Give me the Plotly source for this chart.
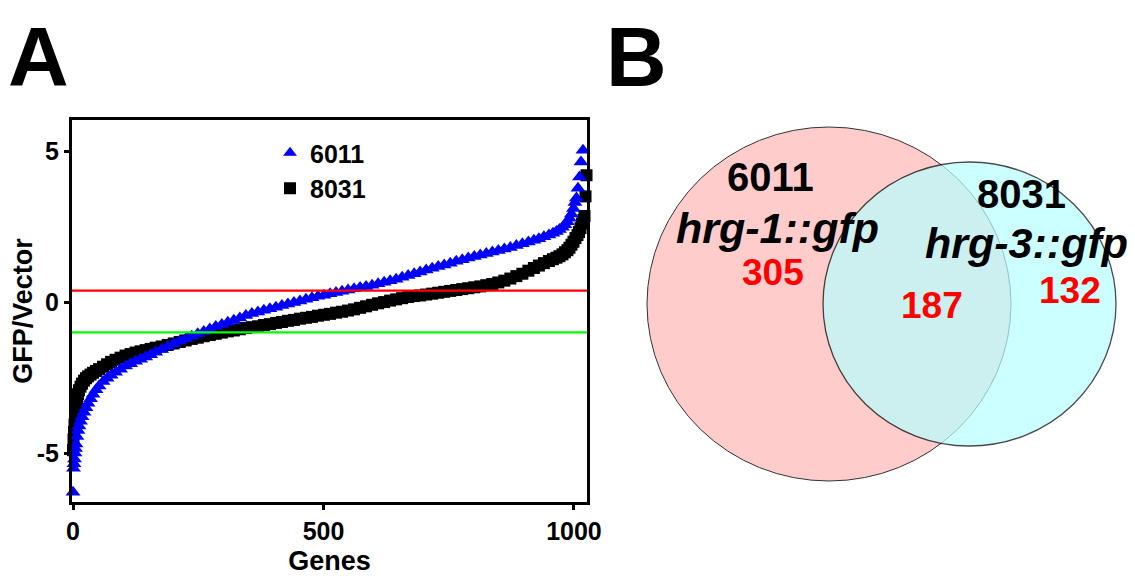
import plotly.graph_objects as go

W, H = 1135, 580          # browser window
OX, OY = 8, 8             # page body margin offset of the figure
FW, FH = W - OX, H - OY   # figure size so it fits in the window

# ---------------- Panel A data ----------------
genes_6011 = [0, 1, 2, 3, 4, 5, 6, 8, 10, 12, 15, 18, 22, 26, 30, 35, 40, 46, 52, 60,
              68, 76, 85, 95, 105, 115, 125, 135, 145, 155, 165, 177, 189, 201, 213,
              225, 237, 249, 261, 273, 285, 297, 309, 321, 333, 345, 357, 369, 381, 393,
              405, 417, 429, 441, 453, 465, 477, 489, 501, 513, 525, 537, 549, 561, 573,
              585, 597, 609, 621, 633, 645, 657, 669, 681, 693, 705, 717, 729, 741, 753,
              765, 777, 789, 801, 813, 825, 837, 849, 861, 873, 885, 897, 909, 920, 930,
              940, 950, 958, 965, 971, 977, 982, 987, 991, 995, 999, 1002, 1005, 1008,
              1011, 1014, 1018]
gfp_6011 = [-6.3, -5.5, -5.35, -5.2, -5.0, -4.85, -4.7, -4.45, -4.25, -4.1, -3.95, -3.8,
            -3.65, -3.5, -3.35, -3.2, -3.05, -2.9, -2.78, -2.63, -2.52, -2.42, -2.32,
            -2.22, -2.12, -2.04, -1.96, -1.89, -1.82, -1.74, -1.66, -1.57, -1.47, -1.38,
            -1.29, -1.21, -1.13, -1.05, -0.97, -0.89, -0.81, -0.74, -0.67, -0.6, -0.53,
            -0.44, -0.38, -0.33, -0.27, -0.22, -0.17, -0.11, -0.06, -0.01, 0.04, 0.09,
            0.14, 0.19, 0.23, 0.28, 0.32, 0.36, 0.40, 0.44, 0.48, 0.52, 0.56, 0.61, 0.66,
            0.71, 0.76, 0.82, 0.88, 0.94, 1.0, 1.06, 1.12, 1.18, 1.23, 1.29, 1.35, 1.40,
            1.46, 1.51, 1.56, 1.61, 1.66, 1.71, 1.76, 1.81, 1.87, 1.93, 1.99, 2.05, 2.1,
            2.16, 2.22, 2.28, 2.34, 2.4, 2.48, 2.56, 2.66, 2.78, 2.92, 3.1, 3.3, 3.45,
            3.77, 4.14, 4.64, 5.03]

genes_8031 = [0, 1, 2, 3, 4, 5, 6, 8, 10, 12, 15, 18, 22, 26, 30, 35, 40, 46, 52, 60,
              68, 76, 85, 95, 105, 115, 125, 135, 145, 155, 165, 177, 189, 201, 213,
              225, 237, 249, 261, 273, 285, 297, 309, 321, 333, 345, 357, 369, 381, 393,
              405, 417, 429, 441, 453, 465, 477, 489, 501, 513, 525, 537, 549, 561, 573,
              585, 597, 609, 621, 633, 645, 657, 669, 681, 693, 705, 717, 729, 741, 753,
              765, 777, 789, 801, 813, 825, 837, 849, 861, 873, 885, 897, 909, 920, 930,
              940, 950, 958, 965, 971, 977, 982, 987, 991, 995, 999, 1003, 1007, 1010,
              1013, 1016, 1019, 1021, 1023, 1025]
gfp_8031 = [-4.9, -4.55, -4.3, -4.05, -3.85, -3.65, -3.5, -3.25, -3.05, -2.92, -2.8, -2.7,
            -2.6, -2.52, -2.46, -2.4, -2.34, -2.28, -2.22, -2.14, -2.06, -1.98, -1.91,
            -1.84, -1.77, -1.72, -1.67, -1.63, -1.59, -1.55, -1.51, -1.47, -1.42, -1.37,
            -1.32, -1.27, -1.22, -1.18, -1.13, -1.09, -1.05, -1.01, -0.97, -0.94, -0.9,
            -0.86, -0.83, -0.8, -0.76, -0.73, -0.69, -0.66, -0.62, -0.59, -0.55, -0.52,
            -0.49, -0.45, -0.42, -0.39, -0.35, -0.32, -0.28, -0.24, -0.19, -0.14, -0.09,
            -0.04, 0.0, 0.05, 0.09, 0.13, 0.17, 0.2, 0.22, 0.25, 0.28, 0.31, 0.34, 0.37,
            0.4, 0.43, 0.46, 0.49, 0.52, 0.56, 0.6, 0.65, 0.71, 0.78, 0.86, 0.94, 1.04,
            1.13, 1.21, 1.29, 1.36, 1.42, 1.47, 1.52, 1.58, 1.65, 1.72, 1.8, 1.9, 2.0,
            2.12, 2.22, 2.32, 2.45, 2.6, 2.72, 2.85, 3.5, 4.2]

up_threshold = 0.38     # red line
down_threshold = -1.0   # green line

x_tickvals = [0, 500, 1000]
x_ticktext = ["0", "500", "1000"]
y_tickvals = [-5, 0, 5]
y_ticktext = ["-5", "0", "5"]

# ---------------- Panel B data ----------------
venn_sets = ["6011", "8031"]
venn_genes = ["hrg-1::gfp", "hrg-3::gfp"]
venn_counts = {"only_6011": 305, "both": 187, "only_8031": 132}

FONT = "Liberation Sans, Arial, sans-serif"


def px(x):
    """picture pixel x -> paper fraction"""
    return (x - OX) / FW


def py(y):
    """picture pixel y (from top) -> paper fraction"""
    return 1 - (y - OY) / FH


fig = go.Figure()

fig.add_trace(go.Scatter(
    x=genes_8031, y=gfp_8031, mode="markers", name=venn_sets[1], legendrank=2,
    marker=dict(symbol="square", size=12, color="#000000", line=dict(width=0)),
    cliponaxis=False))
fig.add_trace(go.Scatter(
    x=genes_6011, y=gfp_6011, mode="markers", name=venn_sets[0], legendrank=1,
    marker=dict(symbol="triangle-up", size=13, color="#0000FF", line=dict(width=0)),
    cliponaxis=False))

# domains in paper coords from pixel frame (72..587, 120..502)
xd = [px(72), px(587)]
yd = [py(502), py(120)]

axis_font = dict(family=FONT, size=25, color="black", weight="bold")
title_font = dict(family=FONT, size=27, color="black", weight="bold")

fig.update_layout(
    width=FW, height=FH,
    margin=dict(l=0, r=0, t=0, b=0),
    paper_bgcolor="white", plot_bgcolor="white",
    showlegend=True,
    legend=dict(x=px(270), y=py(130), xanchor="left", yanchor="top",
                bgcolor="rgba(0,0,0,0)",
                font=dict(family=FONT, size=25, color="black", weight="bold"),
                itemsizing="constant"),
    xaxis=dict(domain=xd, range=[-2, 1026], showgrid=False, zeroline=False,
               automargin=False,
               showline=True, linewidth=3, linecolor="black", mirror=True,
               ticks="outside", ticklen=5, tickwidth=2.5, tickcolor="black",
               tickvals=x_tickvals, ticktext=x_ticktext, tickfont=axis_font,
               title=dict(text="Genes", font=title_font, standoff=8)),
    yaxis=dict(domain=yd, range=[-6.62, 6.03], showgrid=False, zeroline=False,
               automargin=False,
               showline=True, linewidth=3, linecolor="black", mirror=True,
               ticks="outside", ticklen=5, tickwidth=2.5, tickcolor="black",
               tickvals=y_tickvals, ticktext=y_ticktext, tickfont=axis_font,
               title=dict(text="GFP/Vector", font=title_font, standoff=10)),
)

# threshold lines
fig.add_shape(type="line", xref="x domain", yref="y", x0=0, x1=1,
              y0=up_threshold, y1=up_threshold, line=dict(color="#FF0000", width=2.2))
fig.add_shape(type="line", xref="x domain", yref="y", x0=0, x1=1,
              y0=down_threshold, y1=down_threshold, line=dict(color="#00FF00", width=2.2))

# Venn circles (paper coordinates converted from the picture's pixels)
fig.add_shape(type="circle", xref="paper", yref="paper",
              x0=px(647), x1=px(1011), y0=py(481), y1=py(127),
              fillcolor="rgb(255,204,204)", line=dict(color="#333333", width=1))
fig.add_shape(type="circle", xref="paper", yref="paper",
              x0=px(823), x1=px(1116), y0=py(446), y1=py(162),
              fillcolor="rgb(183,255,255)", opacity=0.706,
              line=dict(color="#000000", width=1.3))


def ann(text, x, y, size, color="black", italic=False, yanchor="middle"):
    fig.add_annotation(text=text, x=px(x), y=py(y), xref="paper", yref="paper",
                       showarrow=False, xanchor="center", yanchor=yanchor,
                       font=dict(family=FONT, size=size, color=color, weight="bold",
                                 style="italic" if italic else "normal"))


ann(venn_sets[0], 771, 177, 40)
ann(venn_genes[0], 777, 228, 43, italic=True)
ann(str(venn_counts["only_6011"]), 773, 272, 37, color="#FF0000")
ann(venn_sets[1], 1021, 194, 40)
ann(venn_genes[1], 1026, 243, 43, italic=True)
ann(str(venn_counts["only_8031"]), 1070, 290, 37, color="#FF0000")
ann(str(venn_counts["both"]), 932, 305, 37, color="#FF0000")

# panel letters
ann("A", 38, 8, 84, yanchor="top")
ann("B", 636, 8, 84, yanchor="top")

fig.write_html("out.html")
